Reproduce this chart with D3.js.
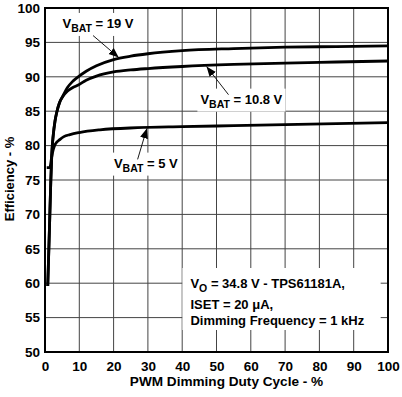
<!DOCTYPE html>
<html>
<head>
<meta charset="utf-8">
<script src="https://cdn.jsdelivr.net/npm/d3@7"></script>
<style>
  body { margin: 0; background: #fff; }
  svg text { font-family: "Liberation Sans", Arial, sans-serif; font-weight: bold; }
</style>
</head>
<body>
<svg id="chart" width="402" height="397"></svg>
<script>
// duty cycle (%) / efficiency (%)
var vbat19 = [[0.8,59.6],[1.3,68],[1.7,75],[2.0,79],[2.4,81.5],[2.9,83.5],[3.5,85],[4.2,86.2],[5.3,87.3],
  [6.5,88.4],[8,89.3],[9.2,89.8],[12,90.8],[15,91.6],[20,92.5],[25,93.0],[30,93.35],[40,93.8],
  [55,94.1],[70,94.3],[85,94.4],[100,94.5]];
var vbat108 = [[0.8,59.6],[1.3,68],[1.7,75],[2.0,79],[2.4,81.5],[2.9,83.5],[3.5,85],[4.2,86.2],[5.3,87.2],
  [6.5,87.9],[8,88.4],[9.7,88.8],[12,89.5],[15,90.1],[20,90.7],[25,91.0],[30,91.2],[40,91.5],
  [55,91.8],[70,92.0],[85,92.15],[100,92.3]];
var vbat5 = [[0.5,76.8],[1.4,76.8],[2.0,78.5],[2.4,79.4],[3,80.2],[4.4,80.9],[5.5,81.3],[7.3,81.6],
  [10,81.9],[16,82.3],[27,82.6],[40,82.75],[55,82.9],[70,83.05],[85,83.2],[100,83.35]];
var xTicks = [0,10,20,30,40,50,60,70,80,90,100];
var yTicks = [50,55,60,65,70,75,80,85,90,95,100];

var svg = d3.select("#chart");
var plotLeft = 45, plotRight = 388, plotTop = 8, plotBottom = 352;

var x = d3.scaleLinear().domain([0,100]).range([plotLeft,plotRight]);
var y = d3.scaleLinear().domain([50,100]).range([plotBottom,plotTop]);

// grid
svg.append("g").selectAll("line").data(xTicks.slice(1,-1)).enter().append("line")
  .attr("x1", function(d){ return x(d); }).attr("x2", function(d){ return x(d); })
  .attr("y1", plotTop).attr("y2", plotBottom)
  .attr("stroke", "#444").attr("stroke-width", 1);
svg.append("g").selectAll("line").data(yTicks.slice(1,-1)).enter().append("line")
  .attr("x1", plotLeft).attr("x2", plotRight)
  .attr("y1", function(d){ return y(d); }).attr("y2", function(d){ return y(d); })
  .attr("stroke", "#444").attr("stroke-width", 1);

// axes
var xAxis = svg.append("g").attr("transform", "translate(0," + plotBottom + ")")
  .call(d3.axisBottom(x).tickValues(xTicks).tickSize(0).tickPadding(9));
var yAxis = svg.append("g").attr("transform", "translate(" + plotLeft + ",0)")
  .call(d3.axisLeft(y).tickValues(yTicks).tickSize(0).tickPadding(5));
[xAxis, yAxis].forEach(function(a){
  a.select(".domain").remove();
  a.selectAll("text").attr("font-size", 13.5).attr("fill", "#000")
    .style("font-family", "'Liberation Sans', Arial, sans-serif").style("font-weight", "bold");
});

svg.append("text").attr("x", (plotLeft+plotRight)/2 + 10).attr("y", 386).attr("text-anchor", "middle")
  .attr("font-size", 13.6).text("PWM Dimming Duty Cycle - %");
svg.append("text").attr("transform", "translate(14," + 179 + ") rotate(-90)").attr("text-anchor", "middle")
  .attr("font-size", 13).text("Efficiency - %");

// labels with white backgrounds
var labelLayer = svg.append("g");
function subLabel(px, py, sub, rest){
  var t = labelLayer.append("text").attr("x", x(px)).attr("y", y(py)).attr("font-size", 13);
  t.append("tspan").text("V");
  t.append("tspan").attr("dy", 4).attr("font-size", 10.5).text(sub);
  t.append("tspan").attr("dy", -4).text(rest);
  return t;
}
function backing(nodes, padL, padT, padR, padB){
  var bb = null;
  nodes.forEach(function(n){
    var b = n.node().getBBox();
    if(!bb) bb = {x0:b.x, y0:b.y, x1:b.x+b.width, y1:b.y+b.height};
    else { bb.x0 = Math.min(bb.x0,b.x); bb.y0 = Math.min(bb.y0,b.y);
      bb.x1 = Math.max(bb.x1,b.x+b.width); bb.y1 = Math.max(bb.y1,b.y+b.height); }
  });
  labelLayer.insert("rect", ":first-child")
    .attr("x", bb.x0-padL).attr("y", bb.y0-padT)
    .attr("width", bb.x1-bb.x0+padL+padR).attr("height", bb.y1-bb.y0+padT+padB)
    .attr("fill", "#fff");
}

var l19 = subLabel(5.1, 97.1, "BAT", " = 19 V");
var l108 = subLabel(45.3, 86.1, "BAT", " = 10.8 V");
var l5 = subLabel(20.1, 76.8, "BAT", " = 5 V");

var n1 = labelLayer.append("text").attr("x", x(42.4)).attr("y", 288).attr("font-size", 13);
n1.append("tspan").text("V");
n1.append("tspan").attr("dy", 4).attr("font-size", 10.5).text("O");
n1.append("tspan").attr("dy", -4).text(" = 34.8 V - TPS61181A,");
var n2 = labelLayer.append("text").attr("x", x(42.4)).attr("y", 309).attr("font-size", 13).text("ISET = 20 \u03bcA,");
var n3 = labelLayer.append("text").attr("x", x(42.4)).attr("y", 325).attr("font-size", 13).text("Dimming Frequency = 1 kHz");

backing([l19], 6, 3, 5, 2);
backing([l108], 3, 3, 3, 2);
backing([l5], 3, 3, 3, 2);
backing([n1, n2, n3], 8, 8, 16, 2);

// curves
var line = d3.line().x(function(d){ return x(d[0]); }).y(function(d){ return y(d[1]); })
  .curve(d3.curveMonotoneX);
[vbat19, vbat108, vbat5].forEach(function(s){
  svg.append("path").datum(s).attr("d", line)
    .attr("fill", "none").attr("stroke", "#000").attr("stroke-width", 2.8)
    .attr("stroke-linejoin", "round");
});

// arrows
var defs = svg.append("defs");
defs.append("marker").attr("id", "head").attr("viewBox", "0 0 10 10")
  .attr("refX", 10).attr("refY", 5).attr("markerWidth", 10).attr("markerHeight", 10)
  .attr("markerUnits", "userSpaceOnUse").attr("orient", "auto")
  .append("path").attr("d", "M0,1 L10,5 L0,9 Z").attr("fill", "#000");
var arrows = [[[14,96.0],[21.5,92.8]], [[53.5,87.4],[47.1,91.5]], [[27,78.0],[29.7,82.5]]];
arrows.forEach(function(a){
  svg.append("line").attr("x1", x(a[0][0])).attr("y1", y(a[0][1]))
    .attr("x2", x(a[1][0])).attr("y2", y(a[1][1]))
    .attr("stroke", "#000").attr("stroke-width", 0.9).attr("marker-end", "url(#head)");
});

// frame
svg.append("rect").attr("x", plotLeft).attr("y", plotTop).attr("width", plotRight-plotLeft).attr("height", plotBottom-plotTop)
  .attr("fill", "none").attr("stroke", "#000").attr("stroke-width", 2);
</script>
</body>
</html>
